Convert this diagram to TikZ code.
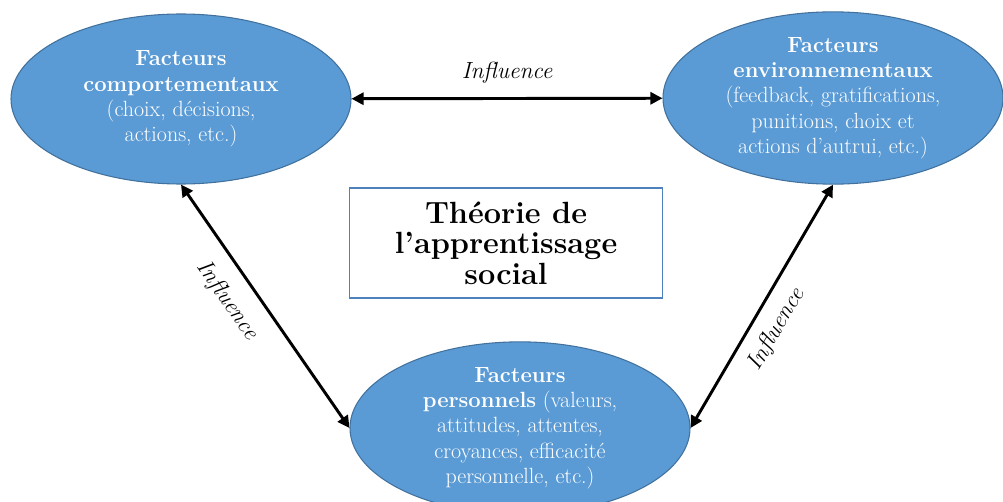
\documentclass[tikz,border=0pt]{standalone}
\usepackage{fontspec}
\usetikzlibrary{shapes.geometric,arrows.meta,positioning}
\definecolor{ellipsefill}{HTML}{5B9BD5}
\definecolor{ellipseborder}{HTML}{41719C}
\definecolor{cadre}{HTML}{4F81BD}
\begin{document}
\begin{tikzpicture}[x=0.75pt,y=-0.75pt,
    facteur/.style={ellipse,draw=ellipseborder,fill=ellipsefill,line width=0.8pt,
      minimum width=255pt,minimum height=127.5pt,inner sep=0pt,text=white,
      align=center,font=\fontsize{16.5}{19}\selectfont},
    lien/.style={>={Triangle[length=9pt,width=9pt]},<->,line width=2.2pt},
    infl/.style={font=\fontsize{17.5}{20}\selectfont\itshape}]
  \useasboundingbox (0,0) rectangle (1003,502);
  % les trois facteurs
  \node[facteur] (comport) at (181,99)
    {\textbf{Facteurs}\\\textbf{comportementaux}\\(choix, décisions,\\actions, etc.)};
  \node[facteur] (environ) at (833,98)
    {\textbf{Facteurs}\\\textbf{environnementaux}\\(feedback, gratifications,\\punitions, choix et\\actions d’autrui, etc.)};
  \node[facteur] (perso) at (520,428)
    {\textbf{Facteurs}\\\textbf{personnels} (valeurs,\\attitudes, attentes,\\croyances, efficacité\\personnelle, etc.)};
  % titre
  \node[draw=cadre,line width=1.2pt,minimum width=234.75pt,minimum height=82.5pt,
    align=center,font=\fontsize{23}{23}\selectfont\bfseries] (titre) at (506,243)
    {Théorie de\\l’apprentissage\\social};
  % influences
  \draw[lien] (comport) -- node[infl,above=7pt] (lbl-haut) {Influence} (environ);
  \draw[lien] (comport.south) -- node[infl,pos=.41,sloped,below=8.5pt] (lbl-gauche) {Influence} (perso.west);
  \draw[lien] (perso.east) -- node[infl,pos=.455,sloped,below=6pt] (lbl-droite) {Influence} (environ.south);
\end{tikzpicture}
\end{document}
